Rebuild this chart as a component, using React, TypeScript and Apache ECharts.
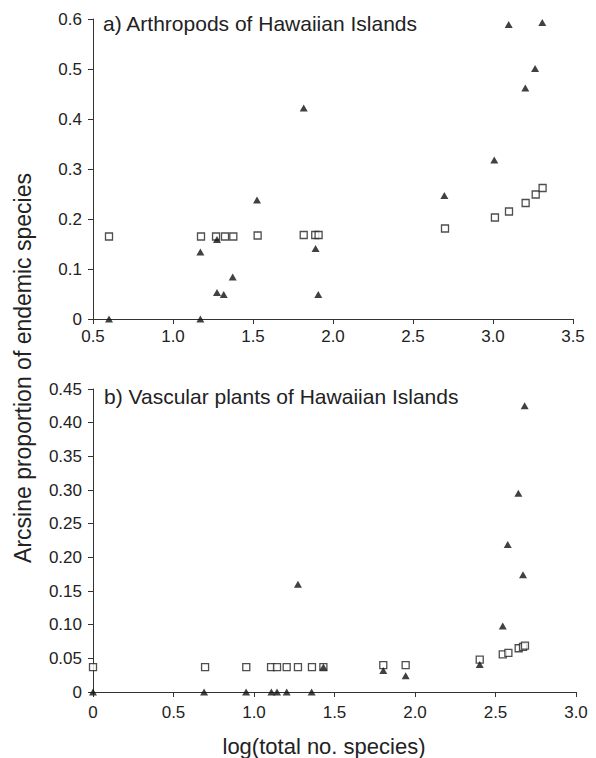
import React, { useEffect, useRef } from "react";
import * as echarts from "echarts";

// Panel a) Arthropods: open squares
const arthSquareX = [0.6, 1.175, 1.269, 1.325, 1.377, 1.529, 1.817, 1.889, 1.91, 2.7, 3.012, 3.1, 3.204, 3.267, 3.31];
const arthSquareY = [0.165, 0.165, 0.165, 0.165, 0.165, 0.167, 0.168, 0.168, 0.168, 0.181, 0.203, 0.215, 0.232, 0.249, 0.262];
// Panel a) Arthropods: filled triangles
const arthTriX = [0.6, 1.171, 1.171, 1.275, 1.275, 1.317, 1.373, 1.525, 1.817, 1.891, 1.908, 2.696, 3.008, 3.098, 3.202, 3.263, 3.308];
const arthTriY = [0, 0.134, 0, 0.159, 0.053, 0.049, 0.084, 0.238, 0.422, 0.141, 0.049, 0.247, 0.318, 0.589, 0.462, 0.501, 0.593];

// Panel b) Vascular plants: open squares
const plantSquareX = [0, 0.696, 0.952, 1.106, 1.143, 1.203, 1.273, 1.36, 1.431, 1.803, 1.942, 2.402, 2.545, 2.58, 2.644, 2.671, 2.683];
const plantSquareY = [0.037, 0.037, 0.037, 0.037, 0.037, 0.037, 0.037, 0.037, 0.037, 0.04, 0.04, 0.048, 0.056, 0.058, 0.065, 0.067, 0.069];
// Panel b) Vascular plants: filled triangles
const plantTriX = [0, 0.69, 0.951, 1.108, 1.143, 1.203, 1.273, 1.358, 1.431, 1.803, 1.942, 2.402, 2.545, 2.576, 2.642, 2.671, 2.681];
const plantTriY = [0, 0, 0, 0, 0, 0, 0.16, 0, 0.037, 0.032, 0.024, 0.041, 0.098, 0.219, 0.295, 0.174, 0.425];

const panelTitles = ["a) Arthropods of Hawaiian Islands", "b) Vascular plants of Hawaiian Islands"];
const yAxisTitle = "Arcsine proportion of endemic species";
const xAxisTitle = "log(total no. species)";

const FONT = "'Liberation Sans', Arial, Helvetica, sans-serif";
const AXIS_COLOR = "#333";
const TEXT_COLOR = "#222";

const pairs = (xs: number[], ys: number[]) => xs.map((x, i) => [x, ys[i]]);

export default function App() {
  const ref = useRef<HTMLDivElement>(null);
  useEffect(() => {
    document.body.style.margin = "0";
    const chart = echarts.init(ref.current!, null, { renderer: "svg" });
    const axisCommon = {
      axisLine: { show: true, onZero: false, lineStyle: { color: AXIS_COLOR, width: 1 } },
      axisTick: { show: true, length: 5, lineStyle: { color: AXIS_COLOR, width: 1 } },
      splitLine: { show: false },
    };
    const labelCommon = { fontSize: 17, color: TEXT_COLOR, fontFamily: FONT };
    const squareStyle = {
      symbol: "rect",
      symbolSize: 7,
      itemStyle: { color: "#fff", borderColor: "#222", borderWidth: 1.3 },
    };
    const triStyle = {
      symbol: "triangle",
      symbolSize: [8, 7],
      itemStyle: { color: "#111" },
    };
    chart.setOption({
      animation: false,
      backgroundColor: "#fff",
      textStyle: { fontFamily: FONT },
      grid: [
        { left: 93, right: 23, top: 19, height: 300 },
        { left: 93, right: 20, top: 389, height: 303 },
      ],
      xAxis: [
        {
          type: "value",
          gridIndex: 0,
          min: 0.5,
          max: 3.5,
          interval: 0.5,
          ...axisCommon,
          axisLabel: { ...labelCommon, margin: 9, formatter: (v: number) => v.toFixed(1) },
        },
        {
          type: "value",
          gridIndex: 1,
          min: 0,
          max: 3,
          interval: 0.5,
          ...axisCommon,
          axisLabel: {
            ...labelCommon,
            margin: 12,
            formatter: (v: number) => (v === 0 ? "0" : v.toFixed(1)),
          },
        },
      ],
      yAxis: [
        {
          type: "value",
          gridIndex: 0,
          min: 0,
          max: 0.6,
          interval: 0.1,
          ...axisCommon,
          axisLabel: {
            ...labelCommon,
            margin: 11,
            formatter: (v: number) => (v === 0 ? "0" : v.toFixed(1)),
          },
        },
        {
          type: "value",
          gridIndex: 1,
          min: 0,
          max: 0.45,
          interval: 0.05,
          ...axisCommon,
          axisLabel: {
            ...labelCommon,
            margin: 11,
            formatter: (v: number) => (v === 0 ? "0" : v.toFixed(2)),
          },
        },
      ],
      series: [
        { type: "scatter", xAxisIndex: 0, yAxisIndex: 0, data: pairs(arthSquareX, arthSquareY), ...squareStyle },
        { type: "scatter", xAxisIndex: 0, yAxisIndex: 0, data: pairs(arthTriX, arthTriY), ...triStyle },
        { type: "scatter", xAxisIndex: 1, yAxisIndex: 1, data: pairs(plantSquareX, plantSquareY), ...squareStyle },
        { type: "scatter", xAxisIndex: 1, yAxisIndex: 1, data: pairs(plantTriX, plantTriY), ...triStyle },
      ],
      graphic: [
        {
          type: "text",
          left: 103,
          top: 13,
          style: { text: panelTitles[0], font: `21px ${FONT}`, fill: TEXT_COLOR },
        },
        {
          type: "text",
          left: 104,
          top: 386,
          style: { text: panelTitles[1], font: `21px ${FONT}`, fill: TEXT_COLOR },
        },
        {
          type: "text",
          x: 23,
          y: 368,
          rotation: Math.PI / 2,
          style: {
            text: yAxisTitle,
            font: `23px ${FONT}`,
            fill: TEXT_COLOR,
            align: "center",
            verticalAlign: "middle",
          },
        },
        {
          type: "text",
          x: 324,
          y: 746,
          style: {
            text: xAxisTitle,
            font: `22px ${FONT}`,
            fill: TEXT_COLOR,
            align: "center",
            verticalAlign: "middle",
          },
        },
      ],
    });
    return () => chart.dispose();
  }, []);
  return <div ref={ref} style={{ width: 596, height: 758 }} />;
}
